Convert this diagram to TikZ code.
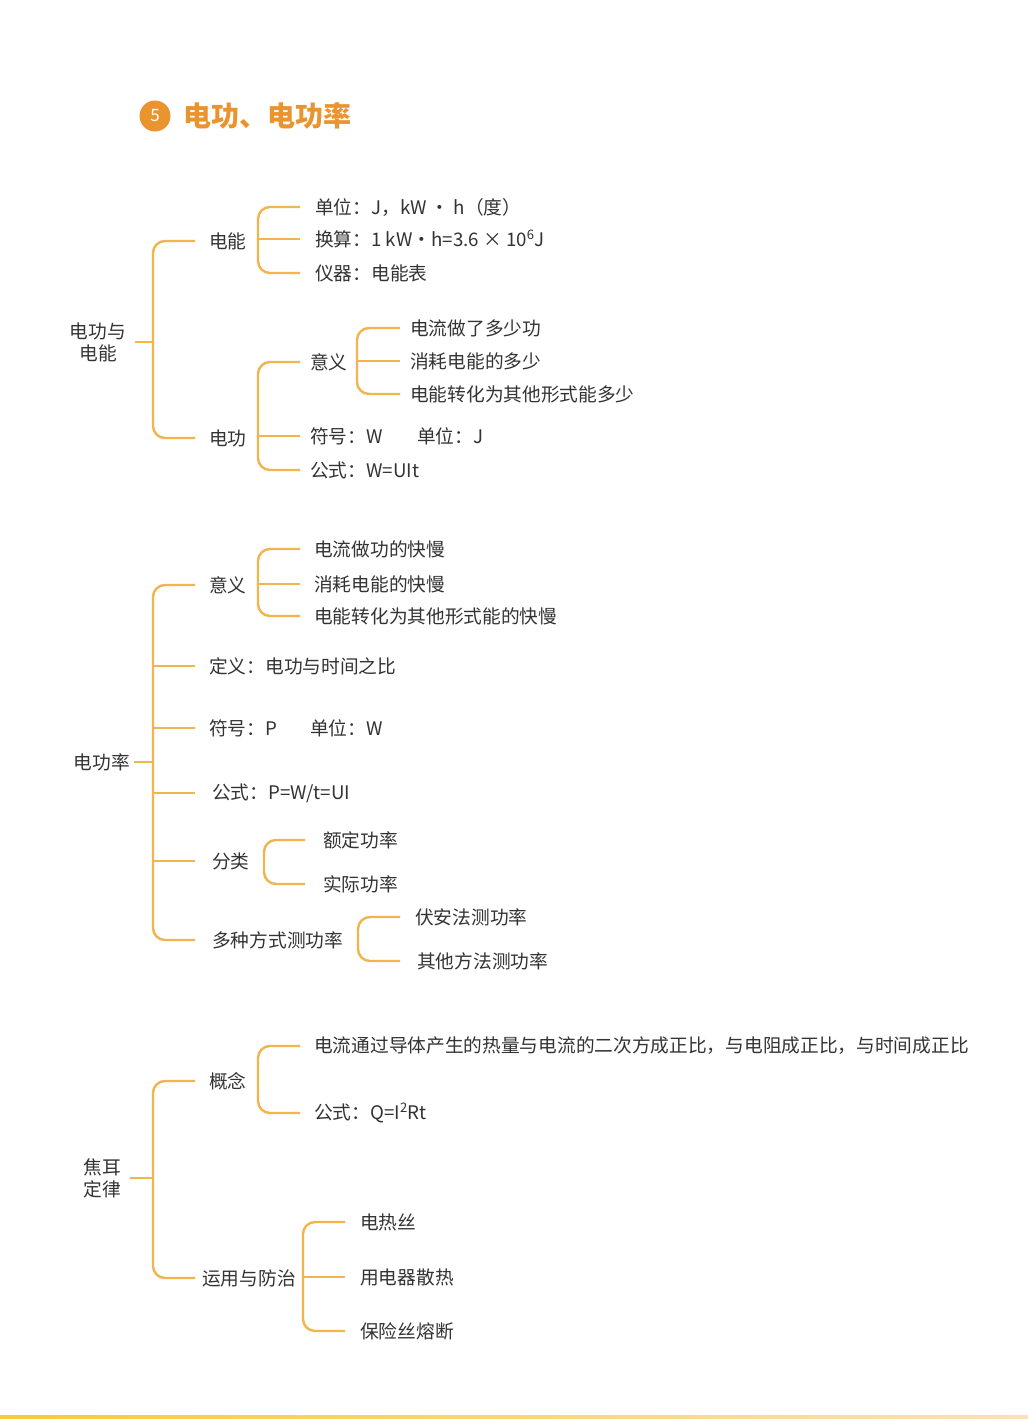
\documentclass[tikz,border=0pt]{standalone}
\usepackage{fontspec}
\setmainfont{Noto Sans CJK SC}
\definecolor{br}{HTML}{F2B54E}
\definecolor{tt}{HTML}{EA9430}
\definecolor{tx}{HTML}{333333}
\begin{document}
\begin{tikzpicture}[x=1pt,y=-1pt,
  t/.style={anchor=west,inner sep=0,text=tx,font=\fontsize{18.7}{22}\selectfont},
  p/.style={align=center,inner sep=0,text=tx,font=\fontsize{18.7}{22}\selectfont},
  brk/.style={draw=br,line width=2.4pt,rounded corners=12pt},
  ln/.style={draw=br,line width=2.4pt}]
\useasboundingbox (0,0) rectangle (1028,1419);
\fill[white] (0,0) rectangle (1028,1419);
\shade[left color=br!70!yellow,right color=br!40] (0,1415) rectangle (1028,1419);
% title
\node[circle,fill=tt,minimum size=31pt,inner sep=0,text=white,font=\fontsize{17}{20}\selectfont] (c5) at (155,116) {5};
\node[anchor=west,inner sep=0,text=tt,font=\fontsize{28}{30}\selectfont\bfseries] (title) at (183,116) {电功、电功率};
\newcommand\bk[4]{\draw[brk] (#2,0 |- #3.west) -- (#1,0 |- #3.west) -- (#1,0 |- #4.west) -- (#2,0 |- #4.west);}
\newcommand\mln[3]{\draw[ln] (#1,0 |- #3.west) -- (#2,0 |- #3.west);}
% ---------- section 1
\node[p] (s1) at (98,342) {电功与\\电能};
\node[t] (dn) at (209,241) {电能};
\node[t] (dg) at (209,438) {电功};
\bk{153}{195}{dn}{dg}
\draw[ln] ([xshift=9pt]s1.east) -- (153,0 |- s1.east);
\node[t] (a1) at (315,207) {单位：J，kW · h（度）};
\node[t] (a2) at (315,239) {换算：1 kW·h=3.6 × 10\textsuperscript{6}J};
\node[t] (a3) at (315,273) {仪器：电能表};
\bk{258}{300}{a1}{a3}\mln{258}{300}{a2}
\node[t] (yy) at (310,362) {意义};
\node[t] (fh) at (310,436) {符号：W};
\node[t] (dw) at (417,436) {单位：J};
\node[t] (gs) at (310,470) {公式：W=UIt};
\bk{258}{300}{yy}{gs}\mln{258}{300}{fh}
\node[t] (b1) at (410,328) {电流做了多少功};
\node[t] (b2) at (410,361) {消耗电能的多少};
\node[t] (b3) at (410,394) {电能转化为其他形式能多少};
\bk{357}{400}{b1}{b3}\mln{357}{400}{b2}
% ---------- section 2
\node[p] (s2) at (102,762) {电功率};
\node[t] (c1) at (209,585) {意义};
\node[t] (c2) at (209,666) {定义：电功与时间之比};
\node[t] (c3) at (209,728) {符号：P};
\node[t] (c3b) at (310,728) {单位：W};
\node[t] (c4) at (212,793) {公式：P=W/t=UI};
\node[t] (c5n) at (212,861) {分类};
\node[t] (c6) at (212,940) {多种方式测功率};
\bk{153}{195}{c1}{c6}
\mln{153}{195}{c2}\mln{153}{195}{c3}\mln{153}{195}{c4}\mln{153}{195}{c5n}
\draw[ln] ([xshift=4pt]s2.east) -- (153,0 |- s2.east);
\node[t] (d1) at (314,549) {电流做功的快慢};
\node[t] (d2) at (314,584) {消耗电能的快慢};
\node[t] (d3) at (314,616) {电能转化为其他形式能的快慢};
\bk{258}{300}{d1}{d3}\mln{258}{300}{d2}
\node[t] (e1) at (323,840) {额定功率};
\node[t] (e2) at (323,884) {实际功率};
\bk{264}{305}{e1}{e2}
\node[t] (f1) at (415,917) {伏安法测功率};
\node[t] (f2) at (417,961) {其他方法测功率};
\bk{358}{400}{f1}{f2}
% ---------- section 3
\node[p] (s3) at (102,1178) {焦耳\\定律};
\node[t] (g1) at (209,1081) {概念};
\node[t] (g2) at (202,1278) {运用与防治};
\bk{153}{195}{g1}{g2}
\draw[ln] ([xshift=9pt]s3.east) -- (153,0 |- s3.east);
\node[t] (h1) at (314,1046) {电流通过导体产生的热量与电流的二次方成正比，与电阻成正比，与时间成正比};
\node[t] (h2) at (314,1113) {公式：Q=I\textsuperscript{2}Rt};
\bk{258}{300}{h1}{h2}
\node[t] (i1) at (360,1222) {电热丝};
\node[t] (i2) at (360,1277) {用电器散热};
\node[t] (i3) at (360,1331) {保险丝熔断};
\bk{303}{345}{i1}{i3}\mln{303}{345}{i2}
\end{tikzpicture}
\end{document}
